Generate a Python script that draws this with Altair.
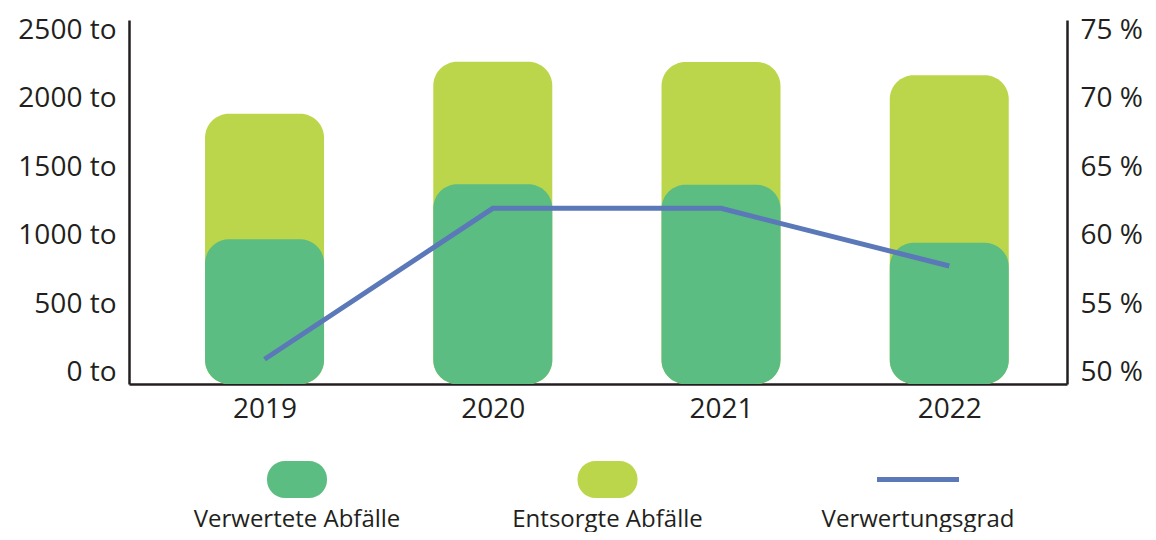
import altair as alt
import pandas as pd

# ---- data ----
years = [2019, 2020, 2021, 2022]
verwertet = [975, 1375, 1372, 950]          # Verwertete Abfälle (to)
entsorgt = [915, 894, 895, 1221]            # Entsorgte Abfälle (to), stacked on top
verwertungsgrad = [51.0, 62.0, 62.0, 57.8]  # %

y_ticks = [0, 500, 1000, 1500, 2000, 2500]
pct_ticks = [50, 55, 60, 65, 70, 75]

legend_names = ["Verwertete Abfälle", "Entsorgte Abfälle", "Verwertungsgrad"]
legend_kinds = ["fill", "fill", "line"]

GREEN = "#5bbd81"
LIME = "#bbd64a"
BLUE = "#5b78b8"
INK = "#231f20"
FONT = "Open Sans"

df = pd.DataFrame({"year": years, "verwertet": verwertet,
                   "entsorgt": entsorgt, "grad": verwertungsgrad})
df["gesamt"] = df["verwertet"] + df["entsorgt"]
Y_MIN = -80.2
df["base"] = Y_MIN

W, H = 938, 364
xscale = alt.Scale(domain=[2018.428, 2022.494], nice=False, zero=False)
yscale = alt.Scale(domain=[Y_MIN, 2572.9], nice=False, zero=False)
pscale = alt.Scale(domain=[49.198, 75.729], nice=False, zero=False)

xaxis = alt.Axis(values=years, format="d", title=None, grid=False, ticks=False,
                 domainColor=INK, domainWidth=2.5, labelFont=FONT, labelFontSize=28,
                 labelColor=INK, labelPadding=11, labelFlush=False)
yaxis = alt.Axis(values=y_ticks, labelExpr="datum.value + ' to'", title=None,
                 grid=False, ticks=False, domainColor=INK, domainWidth=2.5,
                 labelFont=FONT, labelFontSize=28, labelColor=INK, labelPadding=13)
paxis = alt.Axis(values=pct_ticks, labelExpr="datum.value + ' %'", title=None,
                 orient="right", grid=False, ticks=False, domainColor=INK,
                 domainWidth=2.5, labelFont=FONT, labelFontSize=28, labelColor=INK,
                 labelPadding=13)

base = alt.Chart(df)
light = base.mark_bar(width=119, cornerRadius=24, color=LIME).encode(
    x=alt.X("year:Q", scale=xscale, axis=xaxis),
    y=alt.Y("gesamt:Q", scale=yscale, axis=yaxis),
    y2="base:Q",
)
green = base.mark_bar(width=119, cornerRadius=24, color=GREEN).encode(
    x=alt.X("year:Q", scale=xscale),
    y=alt.Y("verwertet:Q", scale=yscale),
    y2="base:Q",
)
line = base.mark_line(color=BLUE, strokeWidth=5, strokeCap="butt").encode(
    x=alt.X("year:Q", scale=xscale),
    y=alt.Y("grad:Q", scale=pscale, axis=paxis),
)

main = alt.layer(alt.layer(light, green), line).resolve_scale(
    y="independent").properties(width=W, height=H)

# ---- legend row ----
ldf = pd.DataFrame({"name": legend_names, "kind": legend_kinds})
lx = alt.X("name:N", scale=alt.Scale(type="point", domain=legend_names,
                                     range=[168, 789], padding=0), axis=None)
lbase = alt.Chart(ldf)
swatch = lbase.transform_filter("datum.kind == 'fill'").mark_bar(
    width=60, cornerRadius=18).encode(
    x=lx,
    color=alt.Color("name:N", scale=alt.Scale(domain=legend_names[:2],
                                              range=[GREEN, LIME]), legend=None),
)
lline = lbase.transform_filter("datum.kind == 'line'").mark_point(
    shape="M-1,-0.06H1V0.06H-1Z", filled=True, size=6724, color=BLUE,
    opacity=1).encode(x=lx)
ltext = lbase.mark_text(dy=40, fontSize=24, font=FONT, color=INK).encode(
    x=lx, text="name:N")
legend = alt.layer(swatch, lline, ltext).properties(width=W, height=37)

chart = alt.vconcat(main, legend, spacing=36).properties(
    padding={"left": 9, "top": 7, "right": 0, "bottom": 0}
).configure_view(stroke="transparent")

chart.save("out.html", embed_options={"renderer": "svg", "actions": False})
